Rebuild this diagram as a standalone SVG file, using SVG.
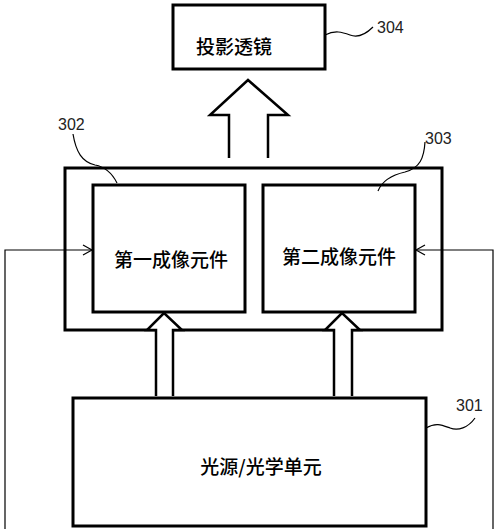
<svg xmlns="http://www.w3.org/2000/svg" width="500" height="529" viewBox="0 0 500 529">
<style>
.box{fill:#fff;stroke:#000;stroke-width:3}
.arr{fill:#fff;stroke:#000;stroke-width:2.5;stroke-linejoin:miter}
.ln{fill:none;stroke:#000;stroke-width:1.2}
.cjk{font-family:"Noto Sans CJK SC","Noto Sans CJK JP",sans-serif;font-size:19px;font-weight:500;fill:#000;text-anchor:middle;dominant-baseline:central}
.num{font-family:"Liberation Sans",Arial,sans-serif;font-size:16px;fill:#222}
</style>
<defs>
<marker id="open" markerWidth="12" markerHeight="12" refX="10" refY="6" orient="auto" markerUnits="userSpaceOnUse">
<path d="M1,1 L10,6 L1,11" fill="none" stroke="#000" stroke-width="1.2"/>
</marker>
</defs>
<rect width="500" height="529" fill="#fff"/>
<g id="node-304">
<rect class="box" x="173" y="5" width="152" height="64"/>
<text class="cjk" x="234" y="45">投影透镜</text>
<path class="ln" d="M325,35 C335,30 342,32 350,35 C358,38 366,34 373,27"/>
<text class="num" x="377" y="33">304</text>
</g>
<g id="node-group">
<rect class="box" x="65" y="168" width="377" height="162"/>
</g>
<g id="node-302">
<rect class="box" x="93" y="185" width="152" height="127"/>
<text class="cjk" x="171" y="258">第一成像元件</text>
<path class="ln" d="M73,134 C76,152 82,162 95,165 C106,167 113,175 117,183"/>
<text class="num" x="58" y="130">302</text>
</g>
<g id="node-303">
<rect class="box" x="263" y="185" width="152" height="127"/>
<text class="cjk" x="339" y="255">第二成像元件</text>
<path class="ln" d="M425,142 C424,158 420,168 405,172 C392,175 382,181 378,191"/>
<text class="num" x="425" y="144">303</text>
</g>
<g id="node-301">
<rect class="box" x="73" y="398" width="353" height="128"/>
<text class="cjk" x="261" y="465">光源/光学单元</text>
<path class="ln" d="M426,428 C436,422 442,425 450,428 C458,431 468,428 475,418"/>
<text class="num" x="456" y="411">301</text>
</g>
<g id="connectors">
<path class="ln" d="M5,529 V250 H92" marker-end="url(#open)"/>
<path class="ln" d="M493,529 V250 H416" marker-end="url(#open)"/>
<path class="arr" d="M229,158 V115 H210 L248,80 L288,115 H268 V158"/>
<path class="arr" d="M156,396 V330 H147 L164,313 L182,330 H173 V396"/>
<path class="arr" d="M334,396 V330 H325 L342,313 L360,330 H352 V396"/>
</g>
</svg>
